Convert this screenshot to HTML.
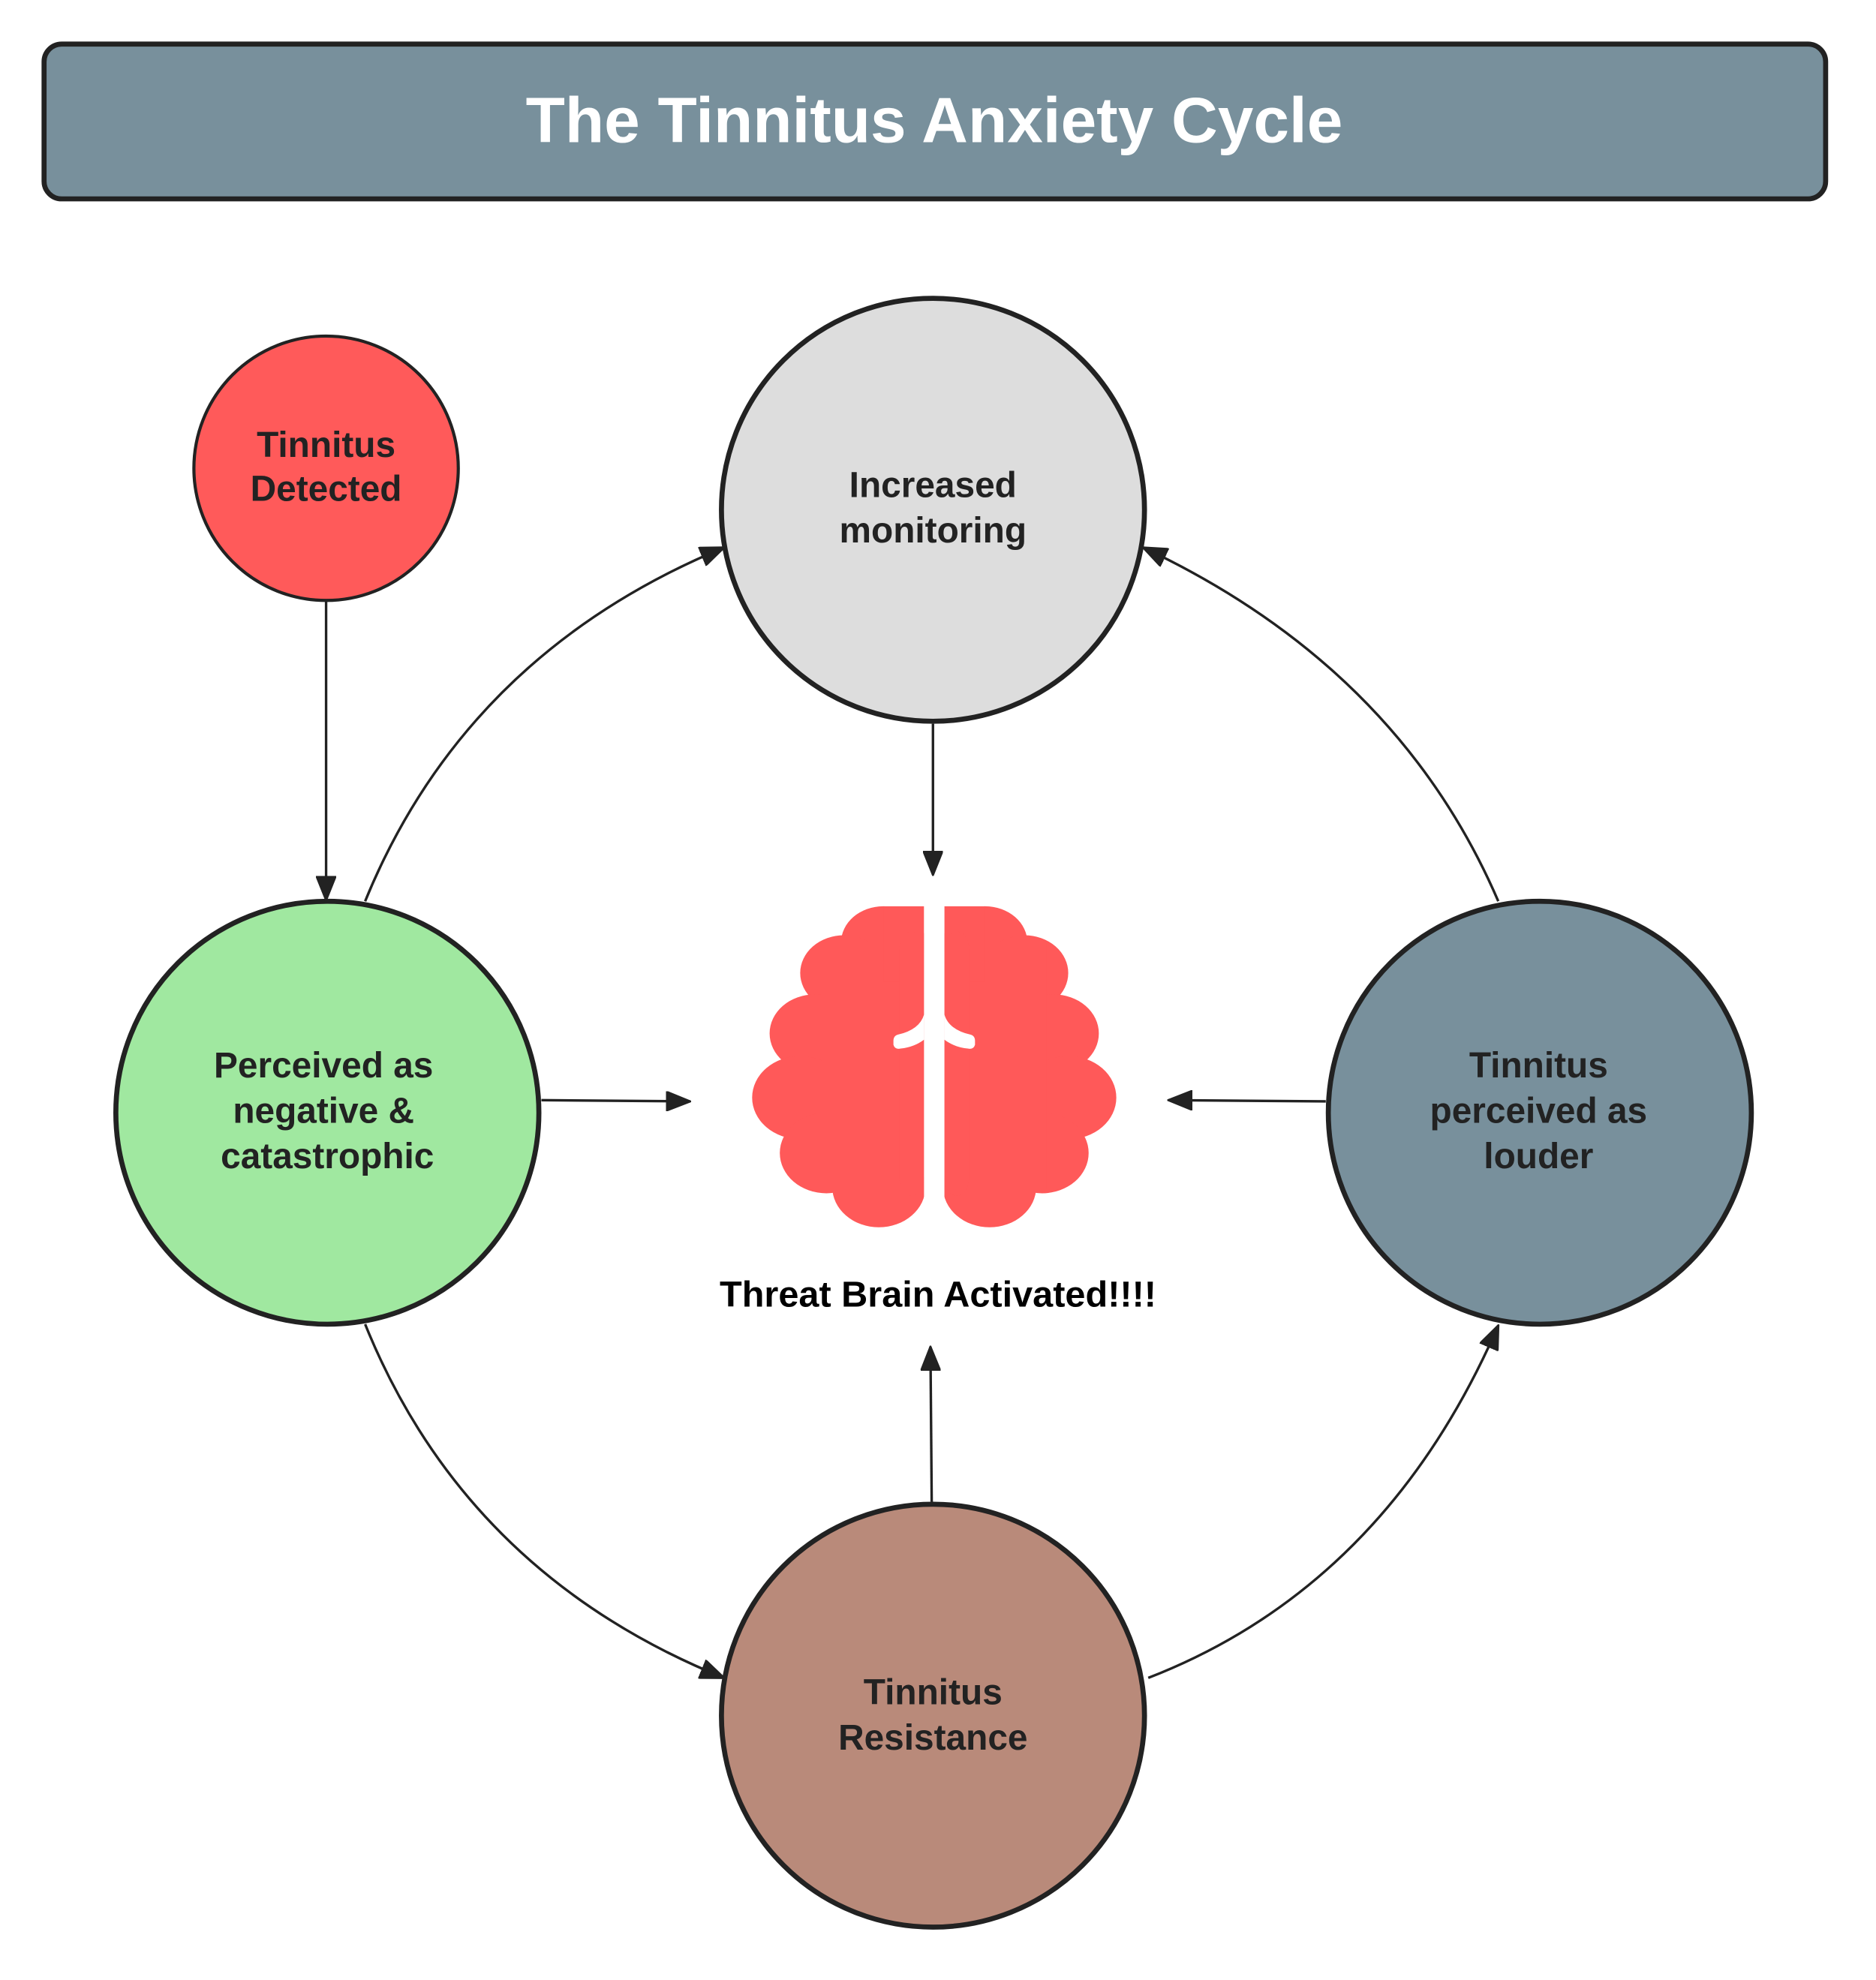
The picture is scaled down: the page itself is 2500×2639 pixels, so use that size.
<!DOCTYPE html>
<html><head><meta charset="utf-8"><style>
html,body{margin:0;padding:0;background:#fff;}
svg{display:block;}
text{font-family:"Liberation Sans",Arial,sans-serif;font-weight:bold;}
</style></head><body>
<svg width="2500" height="2639" viewBox="0 0 1490 1573" preserveAspectRatio="none" xmlns="http://www.w3.org/2000/svg">
<defs>
<marker id="a2" viewBox="0 0 20 16" refX="19" refY="8" markerWidth="20" markerHeight="16" markerUnits="userSpaceOnUse" orient="auto">
<path d="M0,0 L20,8 L0,16 z" fill="#222" stroke="#222" stroke-linejoin="round"/>
</marker>
</defs>
<rect x="35" y="35" width="1415" height="123" rx="14" fill="#78909c" stroke="#222" stroke-width="4"/>
<text x="742" y="113" font-size="51" fill="#fff" text-anchor="middle">The Tinnitus Anxiety Cycle</text>

<g fill="none" stroke="#222" stroke-width="2">
<path d="M259,477 L259,715" marker-end="url(#a2)"/>
<path d="M741,575 L741,695" marker-end="url(#a2)"/>
<path d="M430,874 L548,875" marker-end="url(#a2)"/>
<path d="M1053,875 L928,874" marker-end="url(#a2)"/>
<path d="M740,1193 L739,1070" marker-end="url(#a2)"/>
<path d="M290,716 Q370,520 575,435" marker-end="url(#a2)"/>
<path d="M1190,716 Q1110,530 908,435" marker-end="url(#a2)"/>
<path d="M290,1052 Q370,1250 575,1333" marker-end="url(#a2)"/>
<path d="M912,1333 Q1100,1260 1190,1053" marker-end="url(#a2)"/>
</g>

<circle cx="259" cy="372" r="105" fill="#ff5a5a" stroke="#222" stroke-width="2.5"/>
<circle cx="741" cy="405" r="168" fill="#dddddd" stroke="#222" stroke-width="4"/>
<circle cx="260" cy="884" r="168" fill="#a0e8a0" stroke="#222" stroke-width="4"/>
<circle cx="1223" cy="884" r="168" fill="#78909c" stroke="#222" stroke-width="4"/>
<circle cx="741" cy="1363" r="168" fill="#b98a7a" stroke="#222" stroke-width="4"/>

<g font-size="28.5" fill="#222" text-anchor="middle">
<text x="259" y="363">Tinnitus</text><text x="259" y="398">Detected</text>
<text x="741" y="395">Increased</text><text x="741" y="431">monitoring</text>
<text x="257" y="856">Perceived as</text><text x="257" y="892">negative &amp;</text><text x="260" y="928">catastrophic</text>
<text x="1222" y="856">Tinnitus</text><text x="1222" y="892">perceived as</text><text x="1222" y="928">louder</text>
<text x="741" y="1354">Tinnitus</text><text x="741" y="1390">Resistance</text>
</g>
<text x="745" y="1038" font-size="29" fill="#000" text-anchor="middle">Threat Brain Activated!!!!</text>

<g transform="translate(742,0) scale(1.157,1) translate(-722,0)">
<g fill="#ff5959">
<circle cx="687" cy="749" r="29"/>
<circle cx="660" cy="773" r="30"/>
<circle cx="640" cy="821" r="31"/>
<circle cx="630" cy="872" r="33"/>
<circle cx="648" cy="916" r="32"/>
<circle cx="684" cy="943" r="32"/>
<rect x="645" y="749" width="70" height="196"/>
<rect x="687" y="720" width="28" height="60"/>
<rect x="698" y="740" width="17" height="210" rx="14"/>
</g>
<g transform="translate(1444,0) scale(-1,1)" fill="#ff5959">
<circle cx="687" cy="749" r="29"/>
<circle cx="660" cy="773" r="30"/>
<circle cx="640" cy="821" r="31"/>
<circle cx="630" cy="872" r="33"/>
<circle cx="648" cy="916" r="32"/>
<circle cx="684" cy="943" r="32"/>
<rect x="645" y="749" width="70" height="196"/>
<rect x="687" y="720" width="28" height="60"/>
<rect x="698" y="740" width="17" height="210" rx="14"/>
</g>
<rect x="715" y="715" width="14" height="270" fill="#fff"/>
<path d="M715,806 Q712,818 697,822 Q694,823 694,827 L694,830 Q695,834 699,833 Q708,832 715,826 Z" fill="#fff"/>
<path d="M729,806 Q732,818 747,822 Q750,823 750,827 L750,830 Q749,834 745,833 Q736,832 729,826 Z" fill="#fff"/>
</g>
</svg>
</body></html>
